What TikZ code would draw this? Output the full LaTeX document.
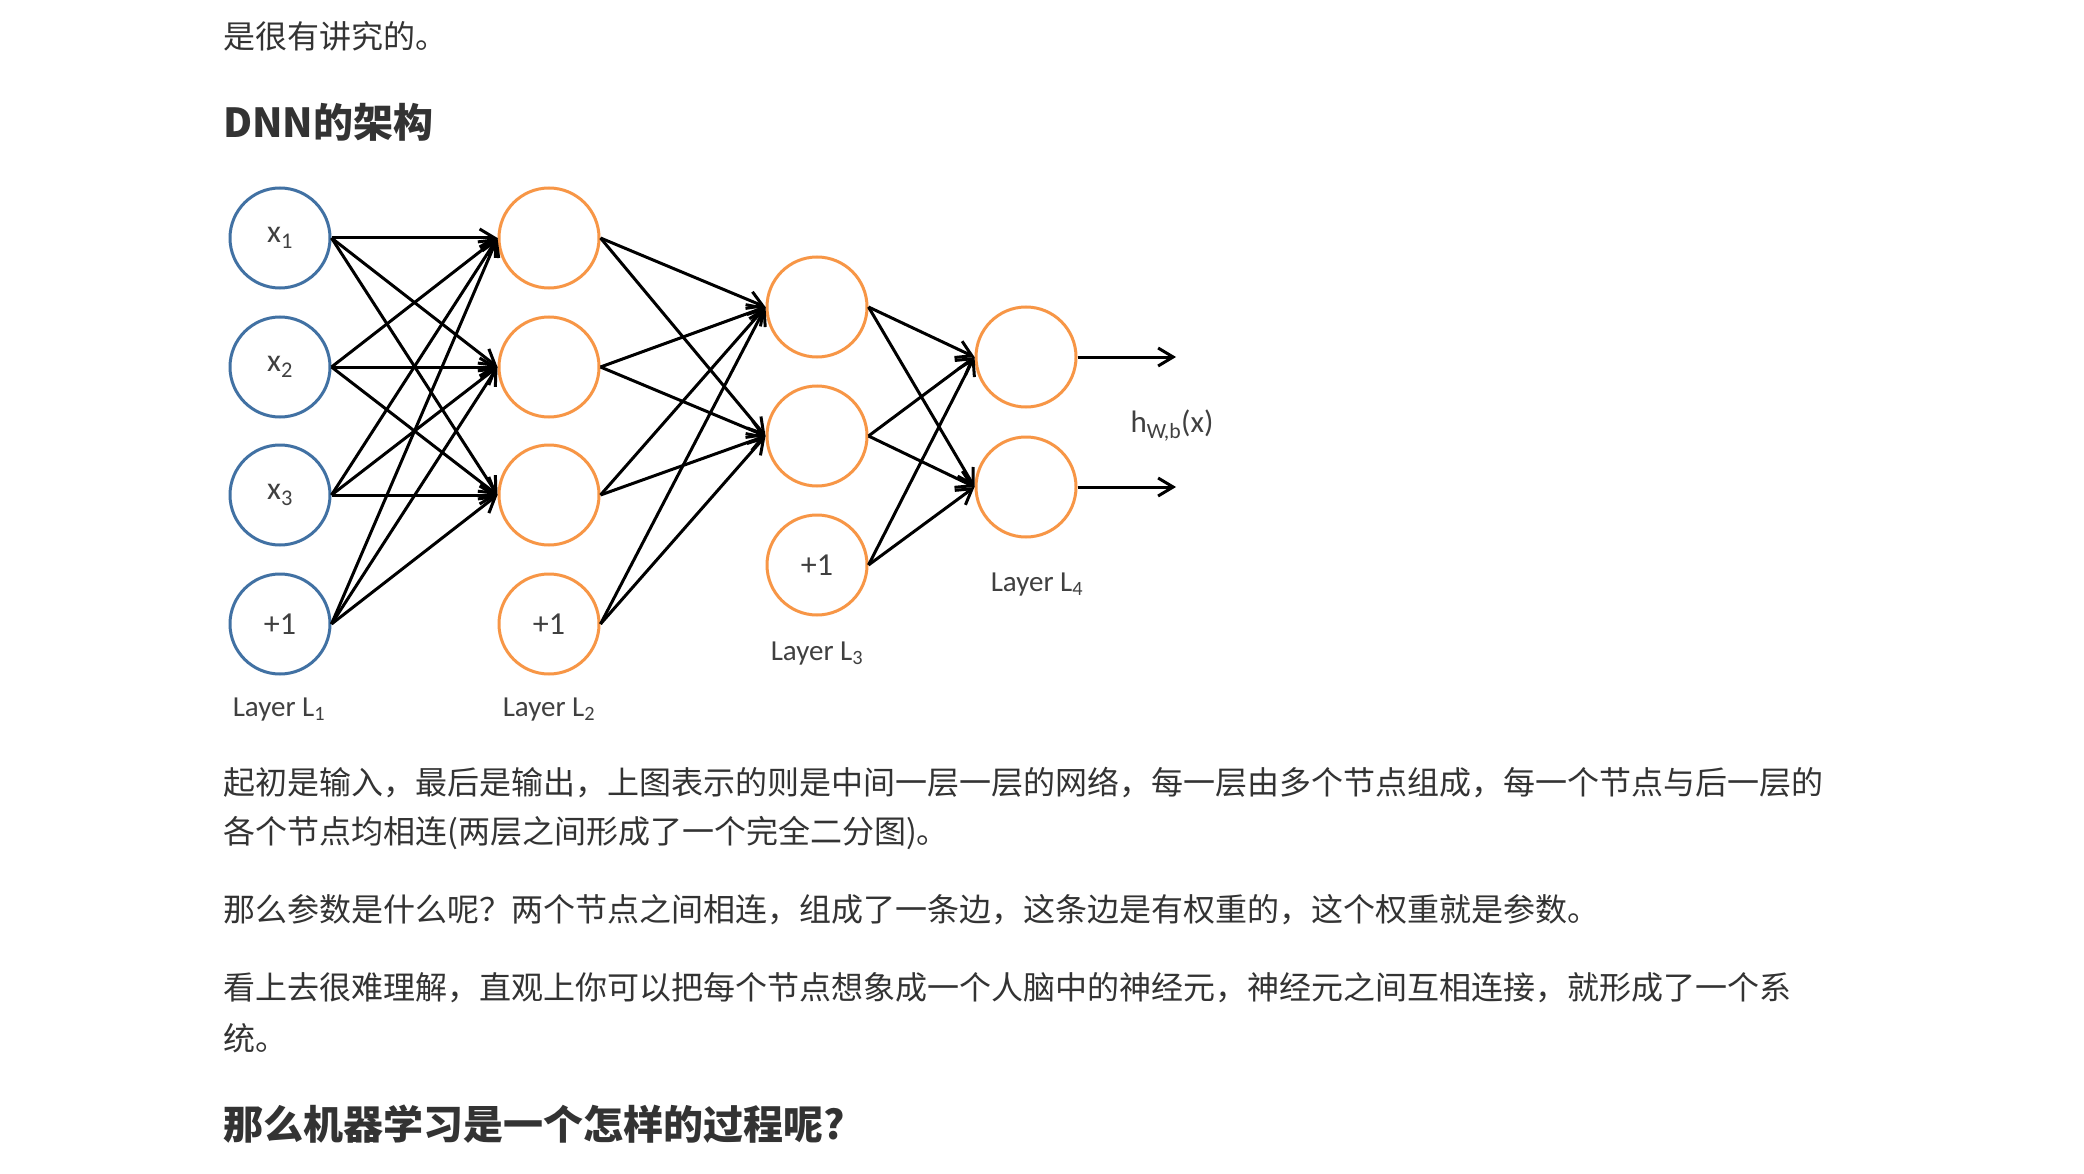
\documentclass[tikz,border=0pt]{standalone}
\usepackage{fontspec}
\setmainfont{Carlito}
\newfontfamily\cjk{Noto Sans CJK SC}
\usetikzlibrary{arrows.meta}
\definecolor{nblue}{RGB}{65,113,163}
\definecolor{norange}{RGB}{247,150,70}
\definecolor{txt}{RGB}{51,51,51}
\definecolor{labgray}{RGB}{64,64,64}
\begin{document}
\begin{tikzpicture}[x=1pt,y=-1pt,
  neuron/.style={circle, minimum size=100pt, inner sep=0pt, line width=3pt, font=\fontsize{32}{32}\selectfont, text=labgray},
  inp/.style={neuron, draw=nblue},
  hid/.style={neuron, draw=norange},
  conn/.style={line width=3pt, -{Straight Barb[length=15pt,width=18pt]}},
  body/.style={anchor=west, inner sep=0pt, font=\cjk\fontsize{32}{32}\selectfont, text=txt},
  headtxt/.style={anchor=west, inner sep=0pt, font=\cjk\bfseries\fontsize{40}{40}\selectfont, text=txt},
  lab/.style={anchor=base, inner sep=0pt, font=\fontsize{29}{29}\selectfont, text=labgray}]
\fill[white] (0,0) rectangle (2084,1174);
\useasboundingbox (0,0) rectangle (2084,1174);

% text above
\node[body] (t0) at (223,36) {是很有讲究的。};
\node[headtxt] (h1) at (223,122) {DNN的架构};

% layer 1
\node[inp] (a1) at (280,238) {x\textsubscript{1}};
\node[inp] (a2) at (280,367) {x\textsubscript{2}};
\node[inp] (a3) at (280,495) {x\textsubscript{3}};
\node[inp] (a4) at (280,624) {+1};
% layer 2
\node[hid] (b1) at (549,238) {};
\node[hid] (b2) at (549,367) {};
\node[hid] (b3) at (549,495) {};
\node[hid] (b4) at (549,624) {+1};
% layer 3
\node[hid] (c1) at (817,307) {};
\node[hid] (c2) at (817,436) {};
\node[hid] (c3) at (817,565) {+1};
% layer 4
\node[hid] (d1) at (1026,357) {};
\node[hid] (d2) at (1026,487) {};
\coordinate (o1) at (1176,357);
\coordinate (o2) at (1176,487);

% connections
\foreach \s in {a1,a2,a3,a4}{
  \foreach \t in {b1,b2,b3}{
    \draw[conn] (\s.east) -- (\t.west);
  }
}
\foreach \s in {b1,b2,b3,b4}{
  \foreach \t in {c1,c2}{
    \draw[conn] (\s.east) -- (\t.west);
  }
}
\foreach \s in {c1,c2,c3}{
  \foreach \t in {d1,d2}{
    \draw[conn] (\s.east) -- (\t.west);
  }
}
\draw[conn] (d1.east) -- (o1);
\draw[conn] (d2.east) -- (o2);

% labels
\node[lab, font=\fontsize{31}{31}\selectfont] (hl) at (1172,432) {h\textsubscript{W,b}(x)};
\node[lab] (l1) at (279,716) {Layer L\textsubscript{1}};
\node[lab] (l2) at (549,716) {Layer L\textsubscript{2}};
\node[lab] (l3) at (817,660) {Layer L\textsubscript{3}};
\node[lab] (l4) at (1037,591) {Layer L\textsubscript{4}};

% text below
\node[body] (p1a) at (223,783) {起初是输入，最后是输出，上图表示的则是中间一层一层的网络，每一层由多个节点组成，每一个节点与后一层的};
\node[body] (p1b) at (223,833) {各个节点均相连(两层之间形成了一个完全二分图)。};
\node[body] (p2) at (223,910) {那么参数是什么呢？两个节点之间相连，组成了一条边，这条边是有权重的，这个权重就是参数。};
\node[body] (p3a) at (223,988) {看上去很难理解，直观上你可以把每个节点想象成一个人脑中的神经元，神经元之间互相连接，就形成了一个系};
\node[body] (p3b) at (223,1038) {统。};
\node[headtxt] (h2) at (223,1124) {那么机器学习是一个怎样的过程呢?};
\end{tikzpicture}
\end{document}
